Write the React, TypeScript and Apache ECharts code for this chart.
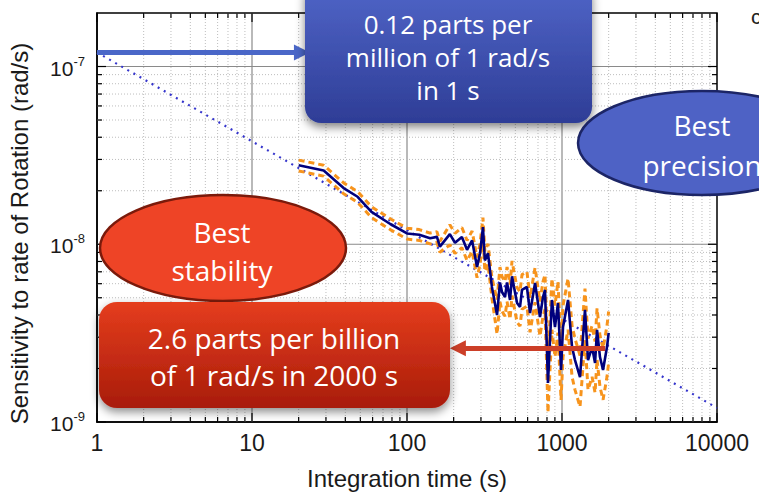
import React, { useEffect, useRef } from "react";
import * as echarts from "echarts";

// Measured rotation-rate sensitivity (rad/s) against integration time (s)
const integrationTime = [
  20, 29, 39, 48, 59, 78, 100, 120, 141, 156, 163, 189, 204, 226, 244, 263, 283, 296,
  309, 318, 333, 353, 381, 398, 410, 429, 442, 462, 476, 490, 513, 536, 552, 594, 622,
  670, 721, 754, 777, 812, 861, 901, 942, 986, 1015, 1094, 1161, 1213, 1307, 1407, 1472,
  1563, 1634, 1683, 1758, 1840, 1951, 2000,
];
const sensitivity = [
  2.78e-8, 2.6e-8, 2.07e-8, 1.85e-8, 1.52e-8, 1.3e-8, 1.15e-8, 1.13e-8, 1.08e-8, 1.1e-8,
  9.7e-9, 1.14e-8, 1.02e-8, 1.1e-8, 9.3e-9, 1.05e-8, 7.45e-9, 8.9e-9, 1.25e-8, 8.1e-9,
  8.9e-9, 5.75e-9, 4.0e-9, 6.1e-9, 5.39e-9, 5.05e-9, 6.1e-9, 4.86e-9, 6.6e-9, 5.75e-9,
  4.67e-9, 4.44e-9, 5.53e-9, 5.75e-9, 4.1e-9, 6.05e-9, 3.9e-9, 5.05e-9, 5.53e-9, 1.66e-9,
  4.86e-9, 3.42e-9, 4.67e-9, 1.96e-9, 3.42e-9, 4.86e-9, 2.64e-9, 2.23e-9, 1.79e-9,
  4.27e-9, 2.23e-9, 2.64e-9, 2.15e-9, 3.3e-9, 2.32e-9, 1.96e-9, 2.64e-9, 3.17e-9,
];
// relative uncertainty of each point (orange dashed bounds)
const relErr = [
  0.07, 0.07, 0.07, 0.07, 0.07, 0.07, 0.07, 0.07, 0.07, 0.07, 0.07, 0.13, 0.13, 0.13,
  0.13, 0.13, 0.13, 0.13, 0.13, 0.13, 0.13, 0.13, 0.22, 0.22, 0.22, 0.22, 0.22, 0.22,
  0.22, 0.22, 0.22, 0.22, 0.22, 0.22, 0.22, 0.22, 0.22, 0.22, 0.22, 0.32, 0.32, 0.32,
  0.32, 0.32, 0.32, 0.32, 0.32, 0.32, 0.32, 0.32, 0.32, 0.32, 0.32, 0.32, 0.32, 0.32,
  0.32, 0.32,
];

// white-noise 1/sqrt(t) guide line
const guideTime = [1, 10000];
const guideValue = [1.2e-7, 1.2e-9];

// callouts: 0.12 ppm at 1 s and 2.6 ppb at 2000 s
const shortTermValue = 1.2e-7;
const shortTermArrow = [1, 21];
const longTermValue = 2.6e-9;
const longTermArrow = [1900, 213];

const xMajor = [1, 10, 100, 1000, 10000];
const xMinor = [
  2, 3, 4, 5, 6, 7, 8, 9, 20, 30, 40, 50, 60, 70, 80, 90, 200, 300, 400, 500, 600, 700,
  800, 900, 2000, 3000, 4000, 5000, 6000, 7000, 8000, 9000,
];
const yMajor = [1e-9, 1e-8, 1e-7];
const yMinor = [
  2e-9, 3e-9, 4e-9, 5e-9, 6e-9, 7e-9, 8e-9, 9e-9, 2e-8, 3e-8, 4e-8, 5e-8, 6e-8, 7e-8,
  8e-8, 9e-8,
];
const xRange = [1, 10000];
const yRange = [1e-9, 2e-7];

const AXIS_FONT = "'Liberation Sans', Arial, sans-serif";
const CALLOUT_FONT = "'Open Sans', 'DejaVu Sans', sans-serif";

function tickRenderer(isX: boolean) {
  return (params: any, api: any) => {
    const cs = params.coordSys;
    const major = api.value(2) === 1;
    const edge = api.value(3) === 1;
    const len = major ? 9 : 5;
    const children: any[] = [];
    const gridStyle = major
      ? { stroke: "#8a8a8a", lineWidth: 1.2 }
      : { stroke: "#bdbdbd", lineWidth: 1, lineDash: [1, 2] };
    const tickStyle = { stroke: "#000", lineWidth: 1.2 };
    if (isX) {
      const px = api.coord([api.value(0), api.value(1)])[0];
      const top = cs.y;
      const bottom = cs.y + cs.height;
      if (!edge) children.push({ type: "line", shape: { x1: px, y1: top, x2: px, y2: bottom }, style: gridStyle });
      children.push({ type: "line", shape: { x1: px, y1: bottom, x2: px, y2: bottom - len }, style: tickStyle });
      children.push({ type: "line", shape: { x1: px, y1: top, x2: px, y2: top + len }, style: tickStyle });
    } else {
      const py = api.coord([api.value(0), api.value(1)])[1];
      const left = cs.x;
      const right = cs.x + cs.width;
      if (!edge) children.push({ type: "line", shape: { x1: left, y1: py, x2: right, y2: py }, style: gridStyle });
      children.push({ type: "line", shape: { x1: left, y1: py, x2: left + len, y2: py }, style: tickStyle });
      children.push({ type: "line", shape: { x1: right, y1: py, x2: right - len, y2: py }, style: tickStyle });
    }
    return { type: "group", children };
  };
}

export default function App() {
  const ref = useRef<HTMLDivElement>(null);

  useEffect(() => {
    if (!ref.current) return;
    const chart = echarts.init(ref.current, undefined, { renderer: "svg" });

    const main = integrationTime.map((t, i) => [t, sensitivity[i]]);
    const upper = integrationTime.map((t, i) => [t, sensitivity[i] * (1 + relErr[i])]);
    const lower = integrationTime.map((t, i) => [t, sensitivity[i] * (1 - relErr[i])]);
    const guide = guideTime.map((t, i) => [t, guideValue[i]]);

    const xTickData = [
      ...xMajor.map((v, i) => [v, 1e-8, 1, i === 0 || i === xMajor.length - 1 ? 1 : 0]),
      ...xMinor.map((v) => [v, 1e-8, 0, 0]),
    ];
    const yTickData = [
      ...yMajor.map((v, i) => [10, v, 1, i === 0 ? 1 : 0]),
      ...yMinor.map((v) => [10, v, 0, 0]),
    ];

    const blueGrad = new echarts.graphic.LinearGradient(0, 0, 0, 1, [
      { offset: 0, color: "#5166c9" },
      { offset: 1, color: "#2e3d96" },
    ]);
    const redGrad = new echarts.graphic.LinearGradient(0, 0, 0, 1, [
      { offset: 0, color: "#e53d1d" },
      { offset: 1, color: "#a81c0a" },
    ]);

    const arrowLine = (from: number, to: number, value: number, color: string) => [
      { coord: [from, value], lineStyle: { color, width: 5, type: "solid" }, symbol: "none" },
      { coord: [to, value], symbol: "triangle", symbolSize: 16 },
    ];

    chart.setOption({
      animation: false,
      backgroundColor: "#fff",
      grid: {
        left: 97,
        right: 42,
        top: 13,
        bottom: 75,
        show: true,
        borderColor: "#000",
        borderWidth: 1.5,
        backgroundColor: "#fff",
        outerBoundsMode: "none",
      },
      xAxis: {
        type: "log",
        logBase: 10,
        min: xRange[0],
        max: xRange[1],
        name: "Integration time (s)",
        nameLocation: "middle",
        nameGap: 44,
        nameTextStyle: { fontFamily: AXIS_FONT, fontSize: 24, color: "#1a1a1a" },
        axisLine: { show: true, onZero: false, lineStyle: { color: "#000", width: 1.5 } },
        axisTick: { show: false },
        splitLine: { show: false },
        axisLabel: {
          margin: 9,
          fontFamily: AXIS_FONT,
          fontSize: 23,
          color: "#1a1a1a",
          formatter: (v: number) => String(Math.round(v)),
        },
      },
      yAxis: {
        type: "log",
        logBase: 10,
        min: yRange[0],
        max: yRange[1],
        name: "Sensitivity to rate of Rotation (rad/s)",
        nameLocation: "middle",
        nameGap: 66,
        nameTextStyle: {
          fontFamily: AXIS_FONT,
          fontSize: 24,
          color: "#1a1a1a",
          padding: [0, 32, 0, 0],
        },
        axisLine: { show: true, onZero: false, lineStyle: { color: "#000", width: 1.5 } },
        axisTick: { show: false },
        splitLine: { show: false },
        axisLabel: {
          margin: 12,
          showMaxLabel: false,
          formatter: (v: number) => `{b|10}{s|${Math.round(Math.log10(v))}}`,
          rich: {
            b: { fontFamily: AXIS_FONT, fontSize: 21, color: "#1a1a1a", lineHeight: 24, verticalAlign: "bottom" },
            s: { fontFamily: AXIS_FONT, fontSize: 13, color: "#1a1a1a", lineHeight: 24, verticalAlign: "top", padding: [0, 0, 12, 0] },
          },
        },
      },
      series: [
        {
          type: "custom",
          silent: true,
          z: 1,
          data: xTickData,
          encode: { x: 0, y: 1 },
          renderItem: tickRenderer(true),
        },
        {
          type: "custom",
          silent: true,
          z: 1,
          data: yTickData,
          encode: { x: 0, y: 1 },
          renderItem: tickRenderer(false),
        },
        {
          name: "guide",
          type: "line",
          data: guide,
          symbol: "none",
          silent: true,
          z: 2,
          lineStyle: { color: "#3535cc", width: 2.2, type: [2, 5] },
        },
        {
          name: "upper",
          type: "line",
          data: upper,
          symbol: "none",
          silent: true,
          z: 3,
          lineStyle: { color: "#f7941d", width: 3, type: [6, 4] },
        },
        {
          name: "lower",
          type: "line",
          data: lower,
          symbol: "none",
          silent: true,
          z: 3,
          lineStyle: { color: "#f7941d", width: 3, type: [6, 4] },
        },
        {
          name: "sensitivity",
          type: "line",
          data: main,
          symbol: "none",
          silent: true,
          z: 4,
          lineStyle: { color: "#00007d", width: 2.6 },
        },
        {
          name: "callouts",
          type: "line",
          data: [],
          silent: true,
          z: 6,
          markLine: {
            silent: true,
            label: { show: false },
            emphasis: { disabled: true },
            data: [
              arrowLine(shortTermArrow[0], shortTermArrow[1], shortTermValue, "#4a67c8"),
              arrowLine(longTermArrow[0], longTermArrow[1], longTermValue, "#cc3f28"),
            ],
          },
        },
      ],
      graphic: {
        elements: [
          {
            type: "rect",
            z: 100,
            shape: { x: 305, y: -20, width: 287, height: 143, r: 16 },
            style: {
              fill: blueGrad,
              shadowBlur: 10,
              shadowOffsetY: 4,
              shadowColor: "rgba(0,0,0,0.5)",
            },
          },
          {
            type: "text",
            z: 101,
            style: {
              text: "0.12 parts per\nmillion of 1 rad/s\nin 1 s",
              x: 448,
              y: 57,
              align: "center",
              verticalAlign: "middle",
              fill: "#fff",
              font: `26px ${CALLOUT_FONT}`,
              lineHeight: 33,
            },
          },
          {
            type: "ellipse",
            z: 100,
            shape: { cx: 702, cy: 143, rx: 124, ry: 52 },
            style: { fill: "#4e62c5", stroke: "#1c2566", lineWidth: 2.5 },
          },
          {
            type: "text",
            z: 101,
            style: {
              text: "Best\nprecision",
              x: 702,
              y: 145,
              align: "center",
              verticalAlign: "middle",
              fill: "#fff",
              font: `28px ${CALLOUT_FONT}`,
              lineHeight: 40,
            },
          },
          {
            type: "ellipse",
            z: 100,
            shape: { cx: 223, cy: 248, rx: 123, ry: 53 },
            style: { fill: "#ee4426", stroke: "#7a1a0b", lineWidth: 2.5 },
          },
          {
            type: "text",
            z: 101,
            style: {
              text: "Best\nstability",
              x: 222,
              y: 251,
              align: "center",
              verticalAlign: "middle",
              fill: "#fff",
              font: `28px ${CALLOUT_FONT}`,
              lineHeight: 38,
            },
          },
          {
            type: "rect",
            z: 100,
            shape: { x: 99, y: 302, width: 351, height: 106, r: 18 },
            style: {
              fill: redGrad,
              shadowBlur: 10,
              shadowOffsetY: 4,
              shadowColor: "rgba(0,0,0,0.45)",
            },
          },
          {
            type: "text",
            z: 101,
            style: {
              text: "2.6 parts per billion\nof 1 rad/s in 2000 s",
              x: 274,
              y: 356,
              align: "center",
              verticalAlign: "middle",
              fill: "#fff",
              font: `28px ${CALLOUT_FONT}`,
              lineHeight: 37,
            },
          },
          {
            type: "text",
            z: 101,
            style: {
              text: "c",
              x: 751,
              y: 16,
              verticalAlign: "middle",
              fill: "#222",
              font: `21px ${AXIS_FONT}`,
            },
          },
        ],
      },
    });

    return () => chart.dispose();
  }, []);

  return (
    <div
      ref={ref}
      style={{ position: "fixed", left: 0, top: 0, width: 759, height: 497, background: "#fff" }}
    />
  );
}
